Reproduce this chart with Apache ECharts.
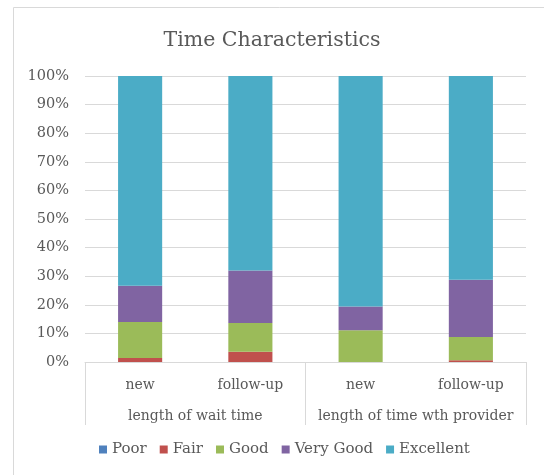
<!DOCTYPE html>
<html>
<head>
<meta charset="utf-8">
<script src="https://cdn.jsdelivr.net/npm/echarts@6/dist/echarts.min.js"></script>
<style>
  html, body { margin: 0; padding: 0; background: #fff; }
  #chart { width: 544px; height: 475px; }
</style>
</head>
<body>
<div id="chart"></div>
<script>
// Inner categories (visit type) and outer groups (measure)
const visitTypes = ['new', 'follow-up', 'new', 'follow-up'];
const measures = ['length of wait time', 'length of time wth provider'];

// Percentage of responses per rating, one value per bar
const poor      = [0, 0, 0, 0];
const fair      = [1.4, 3.6, 0, 0.6];
const good      = [12.6, 10.0, 11.1, 8.1];
const veryGood  = [12.7, 18.4, 8.3, 20.1];
const excellent = [73.3, 68.0, 80.6, 71.2];

const seriesNames = ['Poor', 'Fair', 'Good', 'Very Good', 'Excellent'];
const seriesData = [poor, fair, good, veryGood, excellent];
const colors = ['#4F81BD', '#C0504D', '#9BBB59', '#8064A2', '#4BACC6'];

const FONT = 'DejaVu Serif';
const TEXT = '#595959';

const chart = echarts.init(document.getElementById('chart'), null, { renderer: 'canvas' });

chart.setOption({
  animation: false,
  color: colors,
  textStyle: { fontFamily: FONT },
  title: {
    text: 'Time Characteristics',
    left: 'center',
    top: 25,
    textStyle: { fontFamily: FONT, fontSize: 20.5, fontWeight: 'normal', color: TEXT }
  },
  graphic: [{
    type: 'rect',
    shape: { x: 13.5, y: 7.5, width: 700, height: 700 },
    style: { fill: 'none', stroke: '#d9d9d9', lineWidth: 1 },
    silent: true,
    z: -10
  }],
  legend: {
    data: seriesNames,
    bottom: 13,
    left: 94,
    icon: 'rect',
    itemWidth: 8,
    itemHeight: 8,
    itemGap: 13,
    textStyle: { fontFamily: FONT, fontSize: 15, color: TEXT }
  },
  grid: { left: 85, right: 18, top: 76, bottom: 113, containLabel: false },
  xAxis: [
    {
      type: 'category',
      data: visitTypes,
      position: 'bottom',
      axisLine: { show: true, lineStyle: { color: '#d9d9d9' } },
      axisTick: { show: false },
      axisLabel: { fontFamily: FONT, fontSize: 14, color: TEXT, margin: 16 }
    },
    {
      type: 'category',
      data: measures,
      position: 'bottom',
      gridIndex: 0,
      axisLine: { show: false },
      axisTick: { show: true, length: 63, interval: 0, lineStyle: { color: '#d9d9d9' } },
      axisLabel: { fontFamily: FONT, fontSize: 14, color: TEXT, margin: 47, interval: 0 }
    }
  ],
  yAxis: {
    type: 'value',
    min: 0,
    max: 100,
    interval: 10,
    axisLine: { show: false },
    axisTick: { show: false },
    axisLabel: { formatter: '{value}%', fontFamily: FONT, fontSize: 14.5, color: TEXT, margin: 16 },
    splitLine: { lineStyle: { color: '#d9d9d9' } }
  },
  series: seriesNames.map((name, i) => ({
    name: name,
    type: 'bar',
    stack: 'total',
    xAxisIndex: 0,
    barWidth: '40%',
    data: seriesData[i],
    itemStyle: { color: colors[i] }
  }))
});
</script>
</body>
</html>
